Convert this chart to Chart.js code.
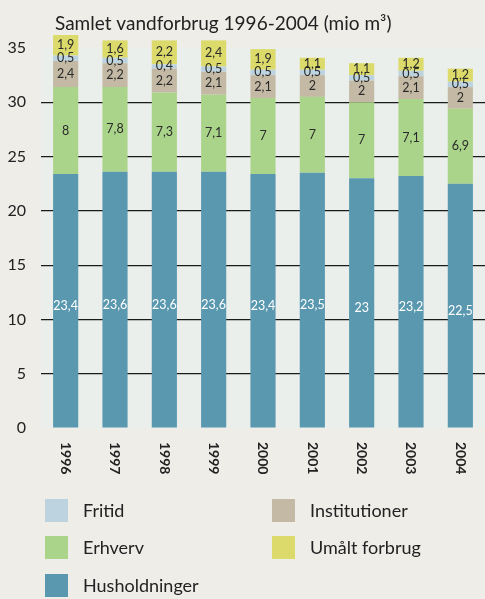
<!DOCTYPE html>
<html>
<head>
<meta charset="utf-8">
<script src="https://cdn.jsdelivr.net/npm/chart.js@4/dist/chart.umd.min.js"></script>
<style>
  body { margin: 0; background: #efede8; }
  #wrap { position: relative; width: 485px; height: 599px; }
</style>
</head>
<body>
<div id="wrap"><canvas id="waterChart"></canvas></div>
<script>
const years = ["1996", "1997", "1998", "1999", "2000", "2001", "2002", "2003", "2004"];
const husholdninger = [23.4, 23.6, 23.6, 23.6, 23.4, 23.5, 23, 23.2, 22.5];
const erhverv = [8, 7.8, 7.3, 7.1, 7, 7, 7, 7.1, 6.9];
const institutioner = [2.4, 2.2, 2.2, 2.1, 2.1, 2, 2, 2.1, 2];
const fritid = [0.5, 0.5, 0.4, 0.5, 0.5, 0.5, 0.5, 0.5, 0.5];
const umaalt = [1.9, 1.6, 2.2, 2.4, 1.9, 1.1, 1.1, 1.2, 1.2];
const yTicks = [0, 5, 10, 15, 20, 25, 30, 35];
const legendOrder = ["Fritid", "Institutioner", "Erhverv", "Umålt forbrug", "Husholdninger"];

const FONT = "Lato, 'Open Sans', sans-serif";

const series = [
    { label: "Husholdninger", data: husholdninger, color: "#5a98b0", text: "#ffffff" },
    { label: "Erhverv", data: erhverv, color: "#abd48b", text: "#2a2a2a" },
    { label: "Institutioner", data: institutioner, color: "#c3b9a4", text: "#2a2a2a" },
    { label: "Fritid", data: fritid, color: "#bdd4e0", text: "#2a2a2a" },
    { label: "Umålt forbrug", data: umaalt, color: "#dbda6b", text: "#2a2a2a" }
];

// plot background + title
const backdrop = {
    id: "backdrop",
    beforeDraw(chart) {
        const { ctx, chartArea } = chart;
        ctx.save();
        ctx.fillStyle = "#ebefeb";
        ctx.fillRect(chartArea.left, chartArea.top, chartArea.right - chartArea.left, chartArea.bottom - chartArea.top);
        ctx.fillStyle = "#222";
        ctx.font = "19px " + FONT;
        ctx.textBaseline = "middle";
        ctx.fillText("Samlet vandforbrug 1996-2004 (mio m³)", 55, 24);
        ctx.restore();
    }
};

// values inside segments, rotated year labels, legend
const extras = {
    id: "extras",
    afterDraw(chart) {
        const { ctx } = chart;
        ctx.save();
        ctx.textAlign = "center";
        ctx.textBaseline = "middle";
        chart.data.datasets.forEach((ds, i) => {
            const meta = chart.getDatasetMeta(i);
            ctx.font = (i === 0 ? "12.5px " : "12.5px ") + FONT;
            ctx.fillStyle = series[i].text;
            meta.data.forEach((bar, j) => {
                const yMid = (bar.y + bar.base) / 2 + (i === 0 ? 5 : 0);
                ctx.fillText(String(ds.data[j]).replace(".", ","), bar.x, yMid);
            });
        });

        const xScale = chart.scales.x;
        ctx.font = "bold 14px " + FONT;
        ctx.fillStyle = "#222";
        ctx.textAlign = "left";
        years.forEach((yr, j) => {
            ctx.save();
            ctx.translate(xScale.getPixelForValue(j), 442);
            ctx.rotate(Math.PI / 2);
            ctx.fillText(yr, 0, 0);
            ctx.restore();
        });

        ctx.font = "18px " + FONT;
        legendOrder.forEach((name, k) => {
            const s = series.find(d => d.label === name);
            const x = k % 2 === 0 ? 45 : 272;
            const y = [499, 536, 574][Math.floor(k / 2)];
            ctx.fillStyle = s.color;
            ctx.fillRect(x, y, 23, 23);
            ctx.fillStyle = "#222";
            ctx.fillText(name, x + 38, y + 12);
        });
        ctx.restore();
    }
};

const ctx = document.getElementById("waterChart").getContext("2d");
new Chart(ctx, {
    type: "bar",
    data: {
        labels: years,
        datasets: series.map(s => ({
            label: s.label,
            data: s.data,
            backgroundColor: s.color,
            borderWidth: 0,
            clip: false,
            categoryPercentage: 1,
            barPercentage: 0.51
        }))
    },
    options: {
        responsive: true,
        maintainAspectRatio: false,
        animation: false,
        layout: { padding: { top: 48, bottom: 171, right: 0, left: 0 } },
        plugins: {
            legend: { display: false },
            tooltip: { enabled: false }
        },
        scales: {
            x: { stacked: true, display: false },
            y: {
                stacked: true,
                min: 0,
                max: 35,
                afterFit(scale) { scale.width = 41; },
                afterBuildTicks(scale) { scale.ticks = yTicks.map(v => ({ value: v })); },
                border: { display: false },
                grid: {
                    drawTicks: false,
                    color: c => (c.tick.value === 0 || c.tick.value === 35) ? "rgba(0,0,0,0)" : "#1a1a1a",
                    lineWidth: 1.2
                },
                ticks: {
                    padding: 15,
                    color: "#222",
                    font: { family: FONT, size: 16 }
                }
            }
        }
    },
    plugins: [backdrop, extras]
});
</script>
</body>
</html>
